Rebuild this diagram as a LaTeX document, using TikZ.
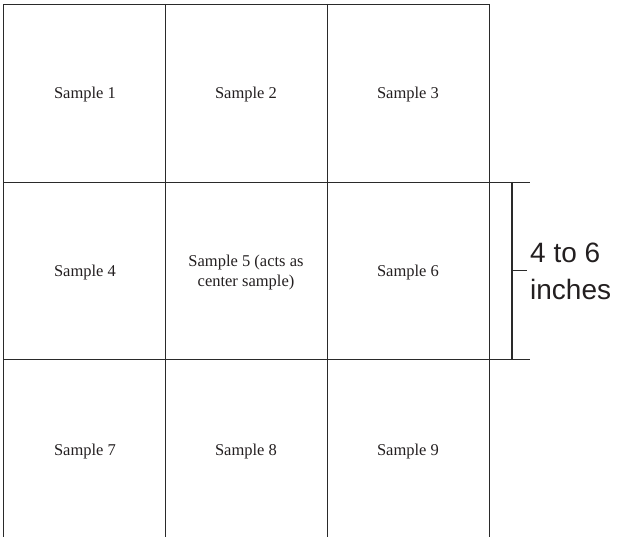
\documentclass[tikz,border=0pt]{standalone}
\usepackage{fontspec}
\setmainfont{Liberation Serif}
\newfontfamily\labfont{Liberation Sans}
\definecolor{gridc}{HTML}{2A2A2A}
\definecolor{txtc}{HTML}{231F20}
\begin{document}
\begin{tikzpicture}[x=1pt,y=-1pt,
  gridline/.style={draw=gridc,line width=0.9pt},
  cell/.style={font=\fontsize{16.5}{20}\selectfont,text=txtc,align=center,inner sep=0pt},
  dimlab/.style={font=\labfont\fontsize{28}{34}\selectfont,text=txtc,anchor=base west,inner sep=0pt}]
\useasboundingbox (0,0) rectangle (621,537);
% grid
\draw[gridline] (3,537) -- (3,4) -- (489,4);
\draw[gridline] (165,4) -- (165,537);
\draw[gridline] (327,4) -- (327,537);
\draw[gridline] (489,4) -- (489,537);
\draw[gridline] (3,182) -- (530,182);
\draw[gridline] (3,359) -- (530,359);
% cells
\node[cell] (s1) at (85,95) {Sample 1};
\node[cell] (s2) at (246,95) {Sample 2};
\node[cell] (s3) at (408,95) {Sample 3};
\node[cell] (s4) at (85,273) {Sample 4};
\node[cell] (s5) at (246,273) {Sample 5 (acts as\\center sample)};
\node[cell] (s6) at (408,273) {Sample 6};
\node[cell] (s7) at (85,452) {Sample 7};
\node[cell] (s8) at (246,452) {Sample 8};
\node[cell] (s9) at (408,452) {Sample 9};
% dimension bracket
\coordinate (bt) at (512,182);
\coordinate (bb) at (512,359);
\coordinate (bm) at (512,270);
\coordinate (tk) at (527,270);
\draw[gridline,line width=1.4pt] (bt) -- (bb);
\draw[gridline] (bm) -- (tk);
\node[dimlab] (l1) at (530,263) {4 to 6};
\node[dimlab] (l2) at (530,300) {inches};
\end{tikzpicture}
\end{document}
